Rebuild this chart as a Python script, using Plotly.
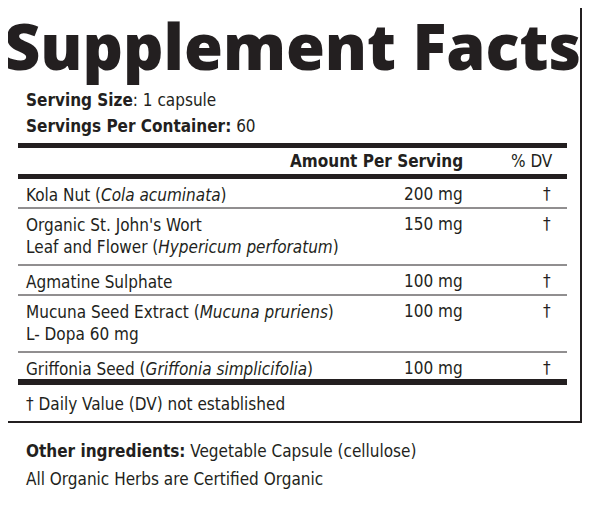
import plotly.graph_objects as go

# label content
serving_size = "1 capsule"
servings_per_container = "60"
ingredients = [
    "Kola Nut (<i>Cola acuminata</i>)",
    "Organic St. John's Wort<br>Leaf and Flower (<i>Hypericum perforatum</i>)",
    "Agmatine Sulphate",
    "Mucuna Seed Extract (<i>Mucuna pruriens</i>)<br>L- Dopa 60 mg",
    "Griffonia Seed (<i>Griffonia simplicifolia</i>)",
]
amounts = ["200 mg", "150 mg", "100 mg", "100 mg", "100 mg"]
dv = ["†", "†", "†", "†", "†"]
row_lines = [1, 2, 1, 2, 1]  # text lines per row

FONT = "DejaVu Sans Condensed"
W, H = 590, 519
OFF = 8  # page body margin
fig = go.Figure()
fig.update_layout(
    width=W - OFF, height=H - OFF, margin=dict(l=0, r=0, t=0, b=0),
    paper_bgcolor="white", plot_bgcolor="white", showlegend=False,
    xaxis=dict(range=[OFF, W], visible=False, fixedrange=True),
    yaxis=dict(range=[H, OFF], visible=False, fixedrange=True),
    font=dict(family=FONT, color="#231f20", size=17),
)

def text(x, y, s, size=17, anchor="left", **kw):
    fig.add_annotation(x=x, y=y, text=s, showarrow=False, xanchor=anchor,
                       yanchor="middle", font=dict(size=size, **kw), align="left")

def hline(y, w):
    fig.add_shape(type="line", x0=18, x1=567, y0=y, y1=y,
                  line=dict(color="#231f20", width=w))

# outer box
fig.add_shape(type="rect", x0=7, x1=581, y0=7, y1=422, line=dict(color="#231f20", width=2))

text(292, 45, "Supplement Facts", size=63, anchor="center",
     family="Open Sans", weight=800)
text(24, 100, "<b>Serving Size</b>: " + serving_size)
text(24, 126, "<b>Servings Per Container:</b> " + servings_per_container)
hline(145.5, 5)
text(465, 161, "<b>Amount Per Serving</b>", anchor="right")
text(555, 161, "% DV", anchor="right")
hline(176.5, 5)

y = 178
for name, amt, d, n in zip(ingredients, amounts, dv, row_lines):
    h = 30 if n == 1 else 57
    top = y + 16
    fig.add_annotation(x=24, y=y + 5, text=name, showarrow=False, xanchor="left",
                       yanchor="top", align="left", font=dict(size=17))
    text(465, top, amt, anchor="right")
    text(553, top, d, anchor="right")
    y += h
    if name != ingredients[-1]:
        hline(y, 1)
hline(382, 6)
text(24, 404, "† Daily Value (DV) not established")

text(24, 451, "<b>Other ingredients:</b> Vegetable Capsule (cellulose)")
text(24, 479, "All Organic Herbs are Certified Organic")

fig.write_html("out.html")
